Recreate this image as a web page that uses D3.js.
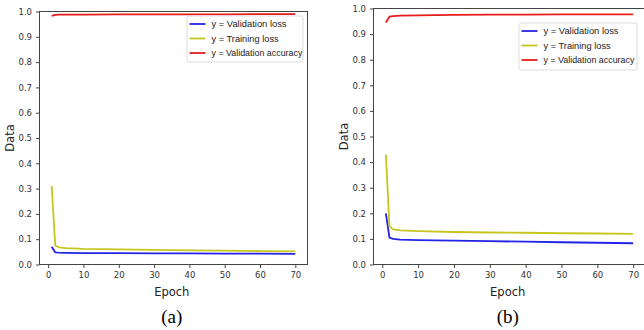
<!DOCTYPE html>
<html>
<head>
<meta charset="utf-8">
<script src="https://cdn.jsdelivr.net/npm/d3@7"></script>
<style>
  body { margin: 0; background: #fff; }
  svg { display: block; }
  .tick text { font-family: "DejaVu Sans", sans-serif; font-size: 8.5px; fill: #333; }
  .tick line, .domain { stroke: #444; }
</style>
</head>
<body>
<div id="chart"></div>
<script>
// values (epochs with a visible change of slope)
var epochs = [1, 2, 3, 5, 10, 20, 30, 40, 50, 60, 70];

// panel (a)
var valLossA = [0.070, 0.048, 0.047, 0.046, 0.045, 0.045, 0.044, 0.044, 0.043, 0.043, 0.042];
var trainLossA = [0.310, 0.075, 0.068, 0.065, 0.062, 0.060, 0.058, 0.056, 0.055, 0.053, 0.052];
var valAccA = [0.983, 0.987, 0.988, 0.988, 0.988, 0.989, 0.989, 0.989, 0.989, 0.990, 0.990];

// panel (b)
var valLossB = [0.200, 0.105, 0.100, 0.097, 0.095, 0.093, 0.091, 0.089, 0.087, 0.085, 0.083];
var trainLossB = [0.430, 0.150, 0.137, 0.133, 0.130, 0.127, 0.125, 0.124, 0.122, 0.121, 0.120];
var valAccB = [0.945, 0.968, 0.970, 0.972, 0.973, 0.975, 0.976, 0.976, 0.977, 0.977, 0.977];

var seriesNames = ["y = Validation loss", "y = Training loss", "y = Validation accuracy"];
var seriesColors = ["#2323e6", "#c6c61e", "#e61c1c"];
var xTicks = [0, 10, 20, 30, 40, 50, 60, 70];
var yTicks = [0, 0.1, 0.2, 0.3, 0.4, 0.5, 0.6, 0.7, 0.8, 0.9, 1.0];

var svg = d3.select("#chart").append("svg")
    .attr("width", 644)
    .attr("height", 330);

var panels = [
    { left: 39.5, right: 307.5, top: 11.5, bottom: 264.5, caption: "(a)",
      series: [valLossA, trainLossA, valAccA],
      legend: { x: 187, y: 16, w: 116, h: 46 } },
    { left: 373.5, right: 645.5, top: 8.5, bottom: 264.5, caption: "(b)",
      series: [valLossB, trainLossB, valAccB],
      legend: { x: 519, y: 23, w: 118, h: 47 } }
];

panels.forEach(function(p) {
    var x = d3.scaleLinear().domain([-2.45, 73.45]).range([p.left, p.right]);
    var y = d3.scaleLinear().domain([0, 1]).range([p.bottom, p.top]);
    var g = svg.append("g");

    // frame
    g.append("rect")
        .attr("x", p.left).attr("y", p.top)
        .attr("width", p.right - p.left).attr("height", p.bottom - p.top)
        .attr("fill", "none").attr("stroke", "#444").attr("stroke-width", 1);

    g.append("g")
        .attr("transform", "translate(0," + p.bottom + ")")
        .call(d3.axisBottom(x).tickValues(xTicks).tickSize(3.5).tickPadding(4).tickSizeOuter(0))
        .call(s => s.select(".domain").remove());

    g.append("g")
        .attr("transform", "translate(" + p.left + ",0)")
        .call(d3.axisLeft(y).tickValues(yTicks).tickFormat(d3.format(".1f")).tickSize(3.5).tickPadding(4).tickSizeOuter(0))
        .call(s => s.select(".domain").remove());

    var line = d3.line().x((d, i) => x(epochs[i])).y(d => y(d));
    p.series.forEach(function(vals, k) {
        g.append("path")
            .datum(vals)
            .attr("d", line)
            .attr("fill", "none")
            .attr("stroke", seriesColors[k])
            .attr("stroke-width", 1.8)
            .attr("stroke-linejoin", "round");
    });

    // legend
    var L = p.legend;
    g.append("rect")
        .attr("x", L.x).attr("y", L.y).attr("width", L.w).attr("height", L.h)
        .attr("rx", 2).attr("fill", "#fff").attr("stroke", "#ddd");
    seriesNames.forEach(function(name, k) {
        var ly = L.y + 8 + k * 14.5;
        g.append("line")
            .attr("x1", L.x + 2.5).attr("x2", L.x + 18.5)
            .attr("y1", ly).attr("y2", ly)
            .attr("stroke", seriesColors[k]).attr("stroke-width", 1.8);
        g.append("text")
            .attr("x", L.x + 24.5).attr("y", ly + 3)
            .attr("font-family", "Liberation Sans, sans-serif")
            .attr("font-size", 9).attr("fill", "#222")
            .attr("textLength", name.length * 3.95)
            .attr("lengthAdjust", "spacingAndGlyphs")
            .text(name);
    });

    var cx = (x(0) + x(70)) / 2;
    g.append("text")
        .attr("x", cx).attr("y", 296)
        .attr("text-anchor", "middle")
        .attr("font-family", "DejaVu Sans, sans-serif")
        .attr("font-size", 11.5).attr("fill", "#222")
        .text("Epoch");

    g.append("text")
        .attr("transform", "translate(" + (p.left - 26) + "," + y(0.5) + ") rotate(-90)")
        .attr("text-anchor", "middle")
        .attr("font-family", "DejaVu Sans, sans-serif")
        .attr("font-size", 11.5).attr("fill", "#222")
        .text("Data");

    g.append("text")
        .attr("x", cx).attr("y", 323)
        .attr("text-anchor", "middle")
        .attr("font-family", "Liberation Serif, serif")
        .attr("font-size", 19).attr("fill", "#000")
        .text(p.caption);
});
</script>
</body>
</html>
